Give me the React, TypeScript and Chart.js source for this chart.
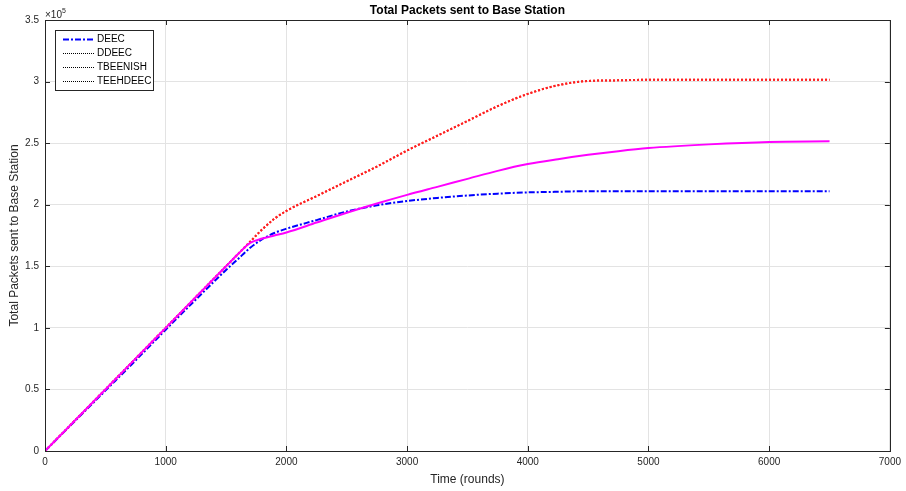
import { useEffect, useRef } from "react";
import { Chart, registerables } from "chart.js";

Chart.register(...registerables);

const chartTitle = "Total Packets sent to Base Station";
const xTitle = "Time (rounds)";
const yTitle = "Total Packets sent to Base Station";

const rounds = [0, 250, 500, 750, 1000, 1250, 1500, 1600, 1700, 1800, 1900, 2000, 2250, 2500, 2750, 3000, 3250, 3500, 3750, 4000, 4250, 4500, 4750, 5000, 5500, 6000, 6500];

const deec = [0, 24500, 49000, 73500, 98500, 123000, 147000, 156000, 165000, 172000, 177000, 180500, 187500, 194500, 199500, 203000, 205500, 207500, 209000, 210000, 210500, 211000, 211000, 211000, 211000, 211000, 211000];

const ddeec = [0, 25000, 50000, 75000, 100000, 125000, 150000, 160000, 170000, 180000, 188500, 195000, 207000, 219000, 231000, 244000, 256000, 268000, 280000, 290000, 297000, 300500, 301000, 301500, 301500, 301500, 301500];

const tbeenish = [0, 25000, 50000, 75000, 100000, 125000, 150000, 160000, 170000, 180000, 188500, 195000, 207000, 219000, 231000, 244000, 256000, 268000, 280000, 290000, 297000, 300500, 301000, 301500, 301500, 301500, 301500];

const teehdeec = [0, 25000, 50000, 75000, 100000, 125000, 150000, 160000, 169000, 172500, 175000, 177500, 185500, 193500, 201000, 208000, 214500, 221000, 227500, 233000, 237000, 240500, 243500, 246000, 249000, 251000, 251500];

const xTicks = [0, 1000, 2000, 3000, 4000, 5000, 6000, 7000];
const yTicks = [0, 50000, 100000, 150000, 200000, 250000, 300000, 350000];

const legendItems = [
  { label: "DEEC", color: "#0000ff", dash: [6, 2, 2, 2], width: 2 },
  { label: "DDEEC", color: "#000000", dash: [1, 1], width: 1.2 },
  { label: "TBEENISH", color: "#000000", dash: [1, 1], width: 1.2 },
  { label: "TEEHDEEC", color: "#000000", dash: [1, 1], width: 1.2 },
];

const FONT = "'Liberation Sans', Arial, Helvetica, sans-serif";

const toPoints = (ys: number[]) => rounds.map((r, i) => ({ x: r, y: ys[i] }));

const decorPlugin = {
  id: "decor",
  afterDraw(chart: any) {
    const ctx = chart.ctx as CanvasRenderingContext2D;
    const a = chart.chartArea;
    const xs = chart.scales.x;
    const ys = chart.scales.y;
    ctx.save();
    // box
    ctx.strokeStyle = "#262626";
    ctx.lineWidth = 1;
    ctx.setLineDash([]);
    ctx.strokeRect(Math.round(a.left) + 0.5, Math.round(a.top) + 0.5, Math.round(a.right - a.left), Math.round(a.bottom - a.top));
    // inner ticks
    const tl = 5;
    ctx.beginPath();
    for (const v of xTicks) {
      const px = Math.round(xs.getPixelForValue(v)) + 0.5;
      ctx.moveTo(px, a.bottom);
      ctx.lineTo(px, a.bottom - tl);
      ctx.moveTo(px, a.top);
      ctx.lineTo(px, a.top + tl);
    }
    for (const v of yTicks) {
      const py = Math.round(ys.getPixelForValue(v)) + 0.5;
      ctx.moveTo(a.left, py);
      ctx.lineTo(a.left + tl, py);
      ctx.moveTo(a.right, py);
      ctx.lineTo(a.right - tl, py);
    }
    ctx.stroke();

    // exponent
    ctx.fillStyle = "#262626";
    ctx.textBaseline = "alphabetic";
    ctx.textAlign = "left";
    ctx.font = `10px ${FONT}`;
    ctx.fillText("\u00d710", a.left, a.top - 2);
    const w = ctx.measureText("\u00d710").width;
    ctx.font = `7px ${FONT}`;
    ctx.fillText("5", a.left + w, a.top - 7);

    // title
    ctx.font = `bold 12px ${FONT}`;
    ctx.fillStyle = "#000";
    ctx.textAlign = "center";
    ctx.textBaseline = "middle";
    ctx.fillText(chartTitle, (a.left + a.right) / 2, 11);

    // x title
    ctx.font = `12px ${FONT}`;
    ctx.fillStyle = "#262626";
    ctx.fillText(xTitle, (a.left + a.right) / 2, 480);

    // y title
    ctx.save();
    ctx.translate(15, (a.top + a.bottom) / 2);
    ctx.rotate(-Math.PI / 2);
    ctx.fillText(yTitle, 0, 0);
    ctx.restore();

    // legend
    const lx = 55.5, ly = 30.5, lw = 98, lh = 60;
    ctx.fillStyle = "#fff";
    ctx.fillRect(lx, ly, lw, lh);
    ctx.strokeStyle = "#262626";
    ctx.lineWidth = 1;
    ctx.strokeRect(lx, ly, lw, lh);
    ctx.font = `10px ${FONT}`;
    ctx.textAlign = "left";
    ctx.textBaseline = "middle";
    const rowY = [39, 53, 67, 81];
    legendItems.forEach((it, i) => {
      const y = rowY[i] + 0.5;
      ctx.beginPath();
      ctx.strokeStyle = it.color;
      ctx.lineWidth = it.width;
      ctx.setLineDash(it.dash);
      ctx.moveTo(63, y);
      ctx.lineTo(94, y);
      ctx.stroke();
      ctx.setLineDash([]);
      ctx.fillStyle = "#000";
      ctx.fillText(it.label, 97, y);
    });
    ctx.restore();
  },
};

export default function App() {
  const ref = useRef<HTMLCanvasElement | null>(null);
  useEffect(() => {
    document.body.style.margin = "0";
    const canvas = ref.current;
    if (!canvas) return;
    const tickFont = { family: FONT, size: 10 };
    const chart = new Chart(canvas, {
      type: "line",
      data: {
        datasets: [
          {
            label: "DEEC",
            data: toPoints(deec),
            borderColor: "#0000ff",
            borderWidth: 2,
            borderDash: [6, 2, 2, 2],
            pointRadius: 0,
            cubicInterpolationMode: "monotone",
            order: 3,
          },
          {
            label: "DDEEC",
            data: toPoints(ddeec),
            borderColor: "#ff2020",
            borderWidth: 2,
            borderDash: [2, 2],
            pointRadius: 0,
            cubicInterpolationMode: "monotone",
            order: 2,
          },
          {
            label: "TBEENISH",
            data: toPoints(tbeenish),
            borderColor: "#ff2020",
            borderWidth: 2,
            borderDash: [2, 2],
            pointRadius: 0,
            cubicInterpolationMode: "monotone",
            order: 2,
          },
          {
            label: "TEEHDEEC",
            data: toPoints(teehdeec),
            borderColor: "#ff00ff",
            borderWidth: 2,
            pointRadius: 0,
            cubicInterpolationMode: "monotone",
            order: 1,
          },
        ],
      },
      options: {
        responsive: false,
        animation: false,
        layout: { padding: { top: 20, right: 16, left: 0, bottom: 0 } },
        plugins: {
          legend: { display: false },
          title: { display: false },
          tooltip: { enabled: false },
        },
        scales: {
          x: {
            type: "linear",
            min: 0,
            max: 7000,
            afterBuildTicks: (s: any) => {
              s.ticks = xTicks.map((v) => ({ value: v }));
            },
            afterFit: (s: any) => {
              s.height = 40;
            },
            ticks: {
              font: tickFont,
              color: "#262626",
              padding: 5,
              maxRotation: 0,
              callback: (v: any) => String(v),
            },
            grid: { color: "#e3e3e3", drawTicks: false, lineWidth: 1 },
            border: { display: false },
          },
          y: {
            type: "linear",
            min: 0,
            max: 350000,
            afterBuildTicks: (s: any) => {
              s.ticks = yTicks.map((v) => ({ value: v }));
            },
            afterFit: (s: any) => {
              s.width = 45;
            },
            ticks: {
              font: tickFont,
              color: "#262626",
              padding: 6,
              callback: (v: any) => String(Number(v) / 100000),
            },
            grid: { color: "#e3e3e3", drawTicks: false, lineWidth: 1 },
            border: { display: false },
          },
        },
      },
      plugins: [decorPlugin],
    });
    return () => chart.destroy();
  }, []);
  return <canvas ref={ref} width={906} height={491} style={{ display: "block" }} />;
}
